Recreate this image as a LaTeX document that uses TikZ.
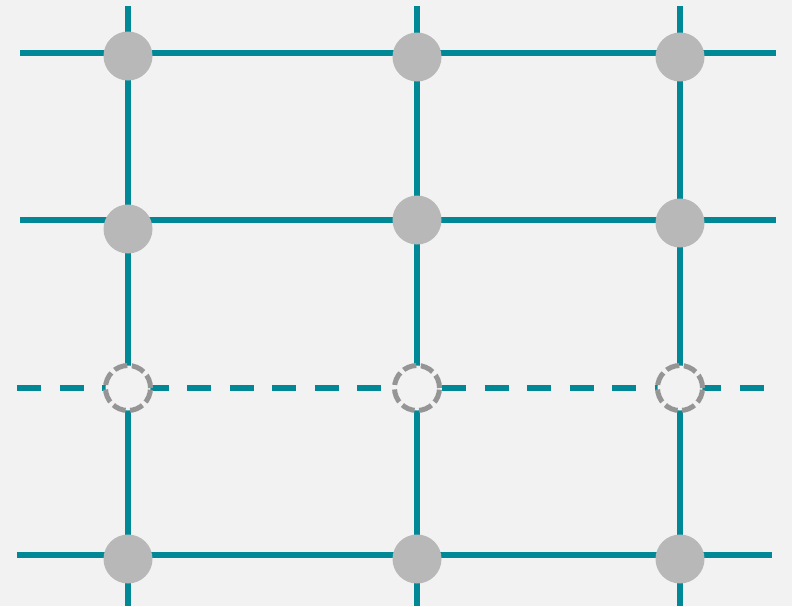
\documentclass[tikz,border=0pt]{standalone}
\usepackage{xcolor}
\usepackage{tikz}
\definecolor{bg}{HTML}{F2F2F2}
\definecolor{lnk}{HTML}{008896}
\definecolor{dot}{HTML}{B8B8B8}
\definecolor{ring}{HTML}{959595}

\begin{document}
\begin{tikzpicture}[x=1pt,y=-1pt,
    wire/.style={draw=lnk,line width=6pt},
    site/.style={circle,fill=dot,minimum size=49pt,inner sep=0pt},
    hole/.style={circle,draw=ring,fill=bg,line width=5pt,dash pattern=on 13.5pt off 4.5pt,minimum size=45pt,inner sep=0pt}]
  \path[use as bounding box,fill=bg] (0,0) rectangle (792,606);

  \coordinate (top1) at (128,6);   \coordinate (bot1) at (128,606);
  \coordinate (top2) at (417,6);   \coordinate (bot2) at (417,606);
  \coordinate (top3) at (680,6);   \coordinate (bot3) at (680,606);
  \coordinate (lft1) at (20,53);   \coordinate (rgt1) at (776,53);
  \coordinate (lft2) at (20,220);  \coordinate (rgt2) at (776,220);
  \coordinate (lft3) at (17,388);  \coordinate (rgt3) at (765,388);
  \coordinate (lft4) at (17,555);  \coordinate (rgt4) at (772,555);

  \draw[wire] (top1) -- (bot1);
  \draw[wire] (top2) -- (bot2);
  \draw[wire] (top3) -- (bot3);
  \draw[wire] (lft1) -- (rgt1);
  \draw[wire] (lft2) -- (rgt2);
  \draw[wire,dash pattern=on 24pt off 18.5pt] (lft3) -- (rgt3);
  \draw[wire] (lft4) -- (rgt4);

  \node[site] (n11) at (128,56) {};
  \node[site] (n12) at (417,57) {};
  \node[site] (n13) at (680,57) {};
  \node[site] (n21) at (128,229) {};
  \node[site] (n22) at (417,220) {};
  \node[site] (n23) at (680,223) {};
  \node[hole] (h31) at (128,388) {};
  \node[hole] (h32) at (417,388) {};
  \node[hole] (h33) at (680,388) {};
  \node[site] (n41) at (128,559) {};
  \node[site] (n42) at (417,559) {};
  \node[site] (n43) at (680,559) {};
\end{tikzpicture}
\end{document}
